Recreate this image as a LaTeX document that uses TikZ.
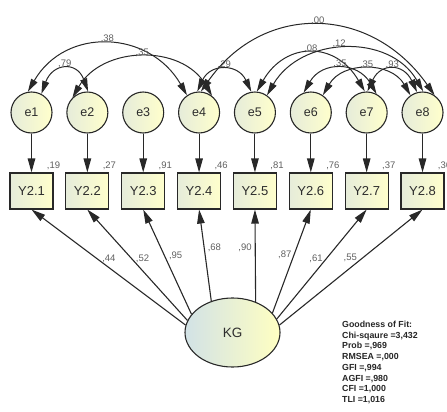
\documentclass[tikz,border=0pt]{standalone}
\usepackage{fontspec}
\setmainfont{Liberation Sans}
\usetikzlibrary{
  arrows.meta,
  shapes.geometric
}
\definecolor{fillL}{RGB}{230, 236, 218}
\definecolor{fillR}{RGB}{255, 255, 204}
\definecolor{latL}{RGB}{210, 226, 230}
\definecolor{latR}{RGB}{255, 255, 194}
\definecolor{edgeclr}{RGB}{40, 40, 40}
\definecolor{txtclr}{RGB}{45, 45, 45}
\definecolor{estclr}{RGB}{95, 95, 95}
\tikzset{
  % Xato hadlari va kuzatiladigan o'zgaruvchilar
  errnode/.style = {circle, minimum size=41pt, inner sep=0pt, draw=edgeclr, line width=1.1pt,
                    left color=fillL, right color=fillR, text=txtclr, font=\fontsize{12.5}{13}\selectfont},
  obsnode/.style = {rectangle, minimum width=43pt, minimum height=36pt, inner sep=0pt, draw=edgeclr,
                    line width=1.1pt, left color=fillL, right color=fillR, text=txtclr,
                    font=\fontsize{13}{14}\selectfont},
  latnode/.style = {ellipse, minimum width=95pt, minimum height=69pt, inner sep=0pt, draw=edgeclr,
                    line width=1.1pt, left color=latL, right color=latR, text=txtclr,
                    font=\fontsize{13.5}{14}\selectfont},
  % Strelkalar
  regpath/.style = {-{Triangle[length=14pt,width=7.5pt]}, line width=1.1pt, draw=edgeclr},
  covpath/.style = {{Triangle[length=13pt,width=7pt]}-{Triangle[length=13pt,width=7pt]},
                    line width=1pt, draw=edgeclr},
  % Baholar
  estlab/.style  = {font=\fontsize{9.5}{10}\selectfont, text=estclr, inner sep=1pt},
  fitlab/.style  = {font=\fontsize{8.8}{10.7}\selectfont\bfseries, text=black!85, align=left, inner sep=0pt},
}
\begin{document}
\begin{tikzpicture}[x=1pt, y=1pt]
  \useasboundingbox (0,0) rectangle (447,-412);
  % Tugunlar
  \foreach \i in {1,...,8} {
    \node[errnode] (e\i) at ({31.5+55.86*(\i-1)}, -112.5) {e\i};
    \node[obsnode] (y\i) at ({31.5+55.86*(\i-1)}, -191) {Y2.\i};
    \draw[regpath] (e\i) -- (y\i);
  }
  \node[latnode] (kg) at (232.5,-332.5) {KG};
  % Dispersiya baholari
  \foreach \i/\v in {1/19,2/27,3/91,4/46,5/81,6/76,7/37,8/36}
    \node[estlab, above=1.5pt] (v\i) at (y\i.north east) {,\v};
  % Yuklamalar
  \draw[regpath] (kg.171) -- node[estlab, pos=0.57, right=3pt] (l1) {,44} (y1.south);
  \draw[regpath] (kg.165) -- node[estlab, pos=0.56, right=3pt] (l2) {,52} (y2.south);
  \draw[regpath] (kg.156) -- node[estlab, pos=0.56, right=3pt] (l3) {,95} (y3.south);
  \draw[regpath] (kg.124) -- node[estlab, pos=0.58, right=2pt] (l4) {,68} (y4.south);
  \draw[regpath] (kg.53)  -- node[estlab, pos=0.58, left=2pt]  (l5) {,90} (y5.south);
  \draw[regpath] (kg.26)  -- node[estlab, pos=0.56, left=1pt]  (l6) {,87} (y6.south);
  \draw[regpath] (kg.17)  -- node[estlab, pos=0.55, left=2pt]  (l7) {,61} (y7.south);
  \draw[regpath] (kg.9)   -- node[estlab, pos=0.58, left=4pt]  (l8) {,55} (y8.south);
  % Kovariatsiyalar
  \draw[covpath] (e1.62)  to[out=70, in=110, looseness=1.79] node[estlab, above] (c1) {,79} (e2.88);
  \draw[covpath] (e1.100) to[out=60, in=120, looseness=1.21] node[estlab, above] (c2) {,38} (e4.125);
  \draw[covpath] (e2.135) to[out=60, in=120, looseness=1.10] node[estlab, above] (c3) {,35} (e4.52);
  \draw[covpath] (e4.95)  to[out=65, in=115, looseness=1.48] node[estlab, above] (c4) {,29} (e5.100);
  \draw[covpath] (e4.85)  to[out=55, in=125, looseness=1.20] node[estlab, above] (c5) {,00} (e8.55);
  \draw[covpath] (e5.85)  to[out=60, in=120, looseness=1.38] node[estlab, above] (c6) {,08} (e7.95);
  \draw[covpath] (e5.55)  to[out=60, in=120, looseness=1.11] node[estlab, above, xshift=-6pt] (c7) {,12} (e8.88);
  \draw[covpath] (e6.110) to[out=60, in=120, looseness=1.30] node[estlab, above] (c8) {,35} (e7.62);
  \draw[covpath] (e6.55)  to[out=60, in=120, looseness=1.15] node[estlab, above] (c9) {,35} (e8.125);
  \draw[covpath] (e7.88)  to[out=65, in=115, looseness=1.64] node[estlab, above] (c10) {,93} (e8.105);
  % Moslik ko'rsatkichlari
  \node[fitlab, anchor=north west] (gof) at (342,-321)
    {Goodness of Fit:\\Chi-sqaure =3,432\\Prob =,969\\RMSEA =,000\\GFI =,994\\AGFI =,980\\CFI =1,000\\TLI =1,016};
\end{tikzpicture}
\end{document}
